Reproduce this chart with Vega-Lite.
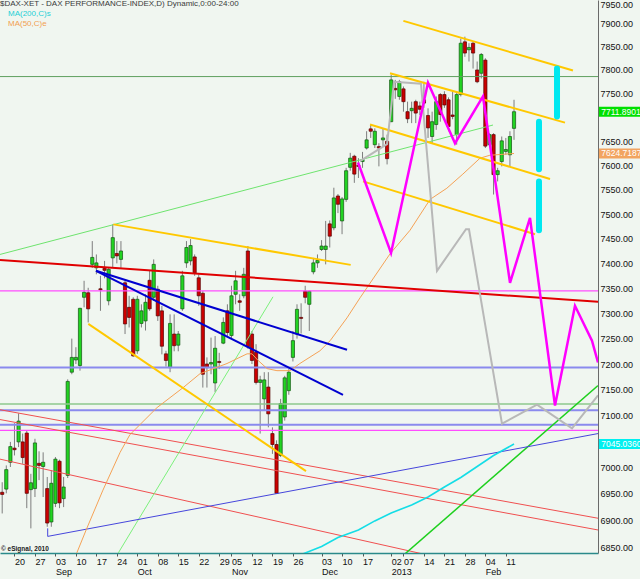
{
  "$schema": "https://vega.github.io/schema/vega-lite/v6.json",
  "width": 598,
  "height": 553,
  "autosize": {"type": "none"},
  "padding": {"left": 0, "top": 0, "right": 42, "bottom": 26},
  "background": "#f0f6f0",
  "config": {
    "view": {"stroke": null},
    "font": "Liberation Sans",
    "axis": {"labelFont": "Liberation Sans", "labelOverlap": false}
  },
  "datasets": {
    "candles": [
      {"k":0,"o":6953,"h":6972,"l":6913,"c":6949},{"k":1,"o":6959,"h":7004,"l":6951,"c":6996},{"k":2,"o":7010,"h":7049,"l":7001,"c":7040},
      {"k":3,"o":7037,"h":7085,"l":7023,"c":7034},{"k":4,"o":7049,"h":7104,"l":7039,"c":7089},{"k":5,"o":7049,"h":7065,"l":7007,"c":7019},
      {"k":6,"o":7066,"h":7071,"l":6923,"c":6951},{"k":7,"o":6958,"h":6988,"l":6885,"c":6971},{"k":8,"o":6960,"h":7055,"l":6944,"c":7047},
      {"k":9,"o":7008,"h":7031,"l":6976,"c":7004},{"k":10,"o":7002,"h":7029,"l":6944,"c":7010},{"k":11,"o":6960,"h":6982,"l":6888,"c":6895},
      {"k":12,"o":6897,"h":6995,"l":6888,"c":6970},{"k":13,"o":6932,"h":7020,"l":6925,"c":7016},{"k":14,"o":7012,"h":7015,"l":6923,"c":6933},
      {"k":15,"o":6941,"h":6982,"l":6925,"c":6963},{"k":16,"o":6985,"h":7170,"l":6980,"c":7166},{"k":17,"o":7184,"h":7250,"l":7180,"c":7213},
      {"k":18,"o":7208,"h":7233,"l":7200,"c":7213},{"k":19,"o":7197,"h":7311,"l":7187,"c":7310},{"k":20,"o":7332,"h":7365,"l":7312,"c":7342},
      {"k":21,"o":7341,"h":7351,"l":7282,"c":7309},{"k":22,"o":7398,"h":7445,"l":7391,"c":7412},{"k":23,"o":7391,"h":7418,"l":7378,"c":7401},
      {"k":24,"o":7349,"h":7375,"l":7305,"c":7347},{"k":25,"o":7390,"h":7405,"l":7370,"c":7386},{"k":26,"o":7325,"h":7391,"l":7316,"c":7388},
      {"k":27,"o":7411,"h":7479,"l":7391,"c":7452},{"k":28,"o":7420,"h":7445,"l":7400,"c":7415},{"k":29,"o":7408,"h":7445,"l":7391,"c":7425},
      {"k":30,"o":7361,"h":7365,"l":7259,"c":7279},{"k":31,"o":7312,"h":7335,"l":7272,"c":7292},{"k":32,"o":7328,"h":7332,"l":7214,"c":7216},
      {"k":33,"o":7226,"h":7335,"l":7220,"c":7328},{"k":34,"o":7280,"h":7318,"l":7272,"c":7305},{"k":35,"o":7285,"h":7338,"l":7266,"c":7322},
      {"k":36,"o":7366,"h":7385,"l":7305,"c":7309},{"k":37,"o":7332,"h":7408,"l":7325,"c":7398},{"k":38,"o":7348,"h":7355,"l":7285,"c":7295},
      {"k":39,"o":7305,"h":7315,"l":7219,"c":7235},{"k":40,"o":7220,"h":7226,"l":7195,"c":7207},{"k":41,"o":7193,"h":7298,"l":7184,"c":7280},
      {"k":42,"o":7259,"h":7298,"l":7225,"c":7236},{"k":43,"o":7237,"h":7265,"l":7225,"c":7259},{"k":44,"o":7309,"h":7385,"l":7305,"c":7375},
      {"k":45,"o":7401,"h":7445,"l":7391,"c":7432},{"k":46,"o":7405,"h":7449,"l":7396,"c":7436},{"k":47,"o":7413,"h":7418,"l":7375,"c":7381},
      {"k":48,"o":7371,"h":7378,"l":7315,"c":7335},{"k":49,"o":7340,"h":7345,"l":7154,"c":7180},{"k":50,"o":7200,"h":7213,"l":7154,"c":7193},
      {"k":51,"o":7200,"h":7252,"l":7180,"c":7203},{"k":52,"o":7163,"h":7255,"l":7145,"c":7231},{"k":53,"o":7205,"h":7222,"l":7190,"c":7203},
      {"k":54,"o":7241,"h":7292,"l":7239,"c":7282},{"k":55,"o":7305,"h":7318,"l":7255,"c":7262},{"k":56,"o":7256,"h":7355,"l":7250,"c":7335},
      {"k":57,"o":7338,"h":7385,"l":7318,"c":7365},{"k":58,"o":7325,"h":7338,"l":7305,"c":7322},{"k":59,"o":7335,"h":7391,"l":7330,"c":7378},
      {"k":60,"o":7425,"h":7435,"l":7230,"c":7234},{"k":61,"o":7259,"h":7265,"l":7200,"c":7207},{"k":62,"o":7223,"h":7239,"l":7160,"c":7164},
      {"k":63,"o":7164,"h":7177,"l":7065,"c":7169},{"k":64,"o":7132,"h":7184,"l":7110,"c":7169},{"k":65,"o":7155,"h":7184,"l":7077,"c":7103},
      {"k":66,"o":7065,"h":7077,"l":7026,"c":7044},{"k":67,"o":7044,"h":7052,"l":6950,"c":6951},{"k":68,"o":7023,"h":7132,"l":7020,"c":7123},
      {"k":69,"o":7097,"h":7177,"l":7090,"c":7173},{"k":70,"o":7148,"h":7190,"l":7140,"c":7184},{"k":71,"o":7213,"h":7265,"l":7205,"c":7246},
      {"k":72,"o":7259,"h":7318,"l":7250,"c":7308},{"k":73,"o":7292,"h":7320,"l":7260,"c":7290},{"k":74,"o":7344,"h":7355,"l":7320,"c":7332},
      {"k":75,"o":7318,"h":7345,"l":7265,"c":7344},{"k":76,"o":7383,"h":7411,"l":7378,"c":7401},{"k":77,"o":7401,"h":7418,"l":7391,"c":7406},
      {"k":78,"o":7428,"h":7447,"l":7425,"c":7435},{"k":79,"o":7428,"h":7486,"l":7398,"c":7435},{"k":80,"o":7480,"h":7487,"l":7432,"c":7455},
      {"k":81,"o":7472,"h":7554,"l":7467,"c":7533},{"k":82,"o":7537,"h":7541,"l":7502,"c":7520},{"k":83,"o":7486,"h":7535,"l":7459,"c":7531},
      {"k":84,"o":7530,"h":7595,"l":7525,"c":7589},{"k":85,"o":7596,"h":7626,"l":7589,"c":7615},{"k":86,"o":7619,"h":7622,"l":7564,"c":7582},
      {"k":87,"o":7600,"h":7615,"l":7574,"c":7598},{"k":88,"o":7608,"h":7628,"l":7595,"c":7612},{"k":89,"o":7636,"h":7671,"l":7633,"c":7653},
      {"k":90,"o":7676,"h":7685,"l":7657,"c":7671},{"k":91,"o":7643,"h":7677,"l":7636,"c":7671},{"k":92,"o":7639,"h":7646,"l":7598,"c":7636},
      {"k":93,"o":7653,"h":7677,"l":7640,"c":7657},{"k":94,"o":7650,"h":7664,"l":7602,"c":7614},{"k":95,"o":7691,"h":7790,"l":7690,"c":7779},
      {"k":96,"o":7761,"h":7779,"l":7739,"c":7758},{"k":97,"o":7744,"h":7779,"l":7737,"c":7775},{"k":98,"o":7760,"h":7765,"l":7712,"c":7733},
      {"k":99,"o":7712,"h":7733,"l":7688,"c":7697},{"k":100,"o":7714,"h":7733,"l":7688,"c":7719},{"k":101,"o":7733,"h":7737,"l":7688,"c":7709},
      {"k":102,"o":7724,"h":7733,"l":7705,"c":7717},{"k":103,"o":7737,"h":7775,"l":7720,"c":7730},{"k":104,"o":7704,"h":7719,"l":7657,"c":7678},
      {"k":105,"o":7660,"h":7712,"l":7646,"c":7691},{"k":106,"o":7685,"h":7744,"l":7674,"c":7733},{"k":107,"o":7748,"h":7751,"l":7691,"c":7706},
      {"k":108,"o":7748,"h":7755,"l":7720,"c":7726},{"k":109,"o":7737,"h":7742,"l":7671,"c":7681},{"k":110,"o":7705,"h":7755,"l":7696,"c":7702},
      {"k":111,"o":7664,"h":7755,"l":7643,"c":7748},{"k":112,"o":7748,"h":7867,"l":7744,"c":7857},{"k":113,"o":7860,"h":7871,"l":7828,"c":7836},
      {"k":114,"o":7843,"h":7857,"l":7818,"c":7848},{"k":115,"o":7857,"h":7860,"l":7803,"c":7836},{"k":116,"o":7800,"h":7818,"l":7772,"c":7775},
      {"k":117,"o":7793,"h":7836,"l":7782,"c":7833},{"k":118,"o":7821,"h":7825,"l":7636,"c":7640},{"k":119,"o":7643,"h":7667,"l":7640,"c":7664},
      {"k":120,"o":7664,"h":7667,"l":7540,"c":7581},{"k":121,"o":7581,"h":7595,"l":7567,"c":7589},{"k":122,"o":7608,"h":7660,"l":7598,"c":7651},
      {"k":123,"o":7629,"h":7657,"l":7622,"c":7633},{"k":124,"o":7622,"h":7671,"l":7598,"c":7660},{"k":125,"o":7677,"h":7737,"l":7653,"c":7711.89}
    ],
    "levels": [
      {"id":"g7786","v":7786},{"id":"m7345","v":7345},{"id":"b7193","v":7193},{"id":"g7122","v":7122},
      {"id":"b7110","v":7110},{"id":"b7082","v":7082},{"id":"m7071","v":7071}
    ],
    "lines": [
      {"id":"redThick","k":-0.54,"v":7407,"o":0},{"id":"redThick","k":145.51,"v":7323,"o":1},
      {"id":"redA","k":-0.54,"v":7111,"o":0},{"id":"redA","k":145.51,"v":6904,"o":1},
      {"id":"redB","k":-0.54,"v":7092,"o":0},{"id":"redB","k":145.51,"v":6882,"o":1},
      {"id":"redC","k":-0.54,"v":7016,"o":0},{"id":"redC","k":108.15,"v":6828,"o":1},
      {"id":"blue1","k":22.91,"v":7385,"o":0},{"id":"blue1","k":84.21,"v":7228,"o":1},
      {"id":"blue2","k":22.91,"v":7385,"o":0},{"id":"blue2","k":83.23,"v":7140,"o":1},
      {"id":"blueThin","k":11.11,"v":6885,"o":0},{"id":"blueThin","k":11.11,"v":6870,"o":1},{"id":"blueThin","k":145.51,"v":7065,"o":2},
      {"id":"gold1","k":27.13,"v":7479,"o":0},{"id":"gold1","k":85.11,"v":7397,"o":1},
      {"id":"gold2","k":21.03,"v":7279,"o":0},{"id":"gold2","k":74.2,"v":6993,"o":1},
      {"id":"gold3","k":97.98,"v":7905,"o":0},{"id":"gold3","k":139.4,"v":7799,"o":1},
      {"id":"gold4","k":94.71,"v":7793,"o":0},{"id":"gold4","k":137.45,"v":7689,"o":1},
      {"id":"gold5","k":89.83,"v":7685,"o":0},{"id":"gold5","k":133.79,"v":7572,"o":1},
      {"id":"gold6","k":88.12,"v":7567,"o":0},{"id":"gold6","k":130.13,"v":7459,"o":1},
      {"id":"greenA","k":-0.54,"v":7418,"o":0},{"id":"greenA","k":119.87,"v":7684,"o":1},
      {"id":"greenB","k":27.79,"v":6832,"o":0},{"id":"greenB","k":66.14,"v":7333,"o":1},
      {"id":"greenC","k":97.57,"v":6832,"o":0},{"id":"greenC","k":145.51,"v":7158,"o":1},
      {"id":"cyan1","k":135.5,"v":7803,"o":0},{"id":"cyan1","k":135.5,"v":7702,"o":1},
      {"id":"cyan2","k":131.1,"v":7691,"o":0},{"id":"cyan2","k":131.1,"v":7592,"o":1},
      {"id":"cyan3","k":131.1,"v":7567,"o":0},{"id":"cyan3","k":131.1,"v":7467,"o":1},
      {"id":"magenta","k":86.9,"v":7606,"o":0},{"id":"magenta","k":94.96,"v":7421,"o":1},{"id":"magenta","k":103.99,"v":7773,"o":2},
      {"id":"magenta","k":110.59,"v":7646,"o":3},{"id":"magenta","k":117.42,"v":7744,"o":4},{"id":"magenta","k":124.02,"v":7361,"o":5},
      {"id":"magenta","k":128.9,"v":7492,"o":6},{"id":"magenta","k":135.01,"v":7119,"o":7},{"id":"magenta","k":139.89,"v":7315,"o":8},
      {"id":"magenta","k":144.04,"v":7246,"o":9},{"id":"magenta","k":145.51,"v":7203,"o":10},
      {"id":"gray","k":87.38,"v":7609,"o":0},{"id":"gray","k":93.98,"v":7644,"o":1},{"id":"gray","k":95.69,"v":7775,"o":2},
      {"id":"gray","k":102.28,"v":7771,"o":3},{"id":"gray","k":106.19,"v":7385,"o":4},{"id":"gray","k":113.27,"v":7469,"o":5},
      {"id":"gray","k":114.0,"v":7469,"o":6},{"id":"gray","k":122.06,"v":7084,"o":7},{"id":"gray","k":130.61,"v":7121,"o":8},
      {"id":"gray","k":139.16,"v":7075,"o":9},{"id":"gray","k":145.51,"v":7139,"o":10}
    ],
    "ma": [
      {"ma":"MA(200,C)s","k":70,"v":6830},{"ma":"MA(200,C)s","k":73,"v":6836},{"ma":"MA(200,C)s","k":78,"v":6851},
      {"ma":"MA(200,C)s","k":82,"v":6868},{"ma":"MA(200,C)s","k":87,"v":6882},{"ma":"MA(200,C)s","k":91,"v":6899},
      {"ma":"MA(200,C)s","k":95,"v":6914},{"ma":"MA(200,C)s","k":100,"v":6929},{"ma":"MA(200,C)s","k":104,"v":6944},
      {"ma":"MA(200,C)s","k":108,"v":6963},{"ma":"MA(200,C)s","k":112,"v":6981},{"ma":"MA(200,C)s","k":116,"v":7002},
      {"ma":"MA(200,C)s","k":120,"v":7023},{"ma":"MA(200,C)s","k":125,"v":7045.04},
      {"ma":"MA(50,C)e","k":17.3,"v":6822},{"ma":"MA(50,C)e","k":20.5,"v":6882},{"ma":"MA(50,C)e","k":24.6,"v":6957},
      {"ma":"MA(50,C)e","k":28.8,"v":7029},{"ma":"MA(50,C)e","k":31.2,"v":7063},{"ma":"MA(50,C)e","k":37.8,"v":7115},
      {"ma":"MA(50,C)e","k":44.2,"v":7154},{"ma":"MA(50,C)e","k":48.3,"v":7181},{"ma":"MA(50,C)e","k":54.9,"v":7201},
      {"ma":"MA(50,C)e","k":59.8,"v":7220},{"ma":"MA(50,C)e","k":61,"v":7220},{"ma":"MA(50,C)e","k":62.5,"v":7207},
      {"ma":"MA(50,C)e","k":64.7,"v":7191},{"ma":"MA(50,C)e","k":67.1,"v":7187},{"ma":"MA(50,C)e","k":70.3,"v":7187},
      {"ma":"MA(50,C)e","k":72.7,"v":7201},{"ma":"MA(50,C)e","k":77.6,"v":7226},{"ma":"MA(50,C)e","k":80.1,"v":7246},
      {"ma":"MA(50,C)e","k":84.2,"v":7291},{"ma":"MA(50,C)e","k":87.4,"v":7331},{"ma":"MA(50,C)e","k":94.7,"v":7419},
      {"ma":"MA(50,C)e","k":99.6,"v":7467},{"ma":"MA(50,C)e","k":104.5,"v":7530},{"ma":"MA(50,C)e","k":108.6,"v":7553},
      {"ma":"MA(50,C)e","k":112.5,"v":7582},{"ma":"MA(50,C)e","k":116.7,"v":7615},{"ma":"MA(50,C)e","k":119.1,"v":7621},
      {"ma":"MA(50,C)e","k":125,"v":7624.72}
    ],
    "lastvals": [
      {"s":"close","v":7711.8901,"t":"7711.8901"},
      {"s":"ma50","v":7624.71877,"t":"7624.71877"},
      {"s":"ma200","v":7045.03601,"t":"7045.03601"}
    ]
  },
  "layer": [
    {
      "data": {"name": "candles"},
      "mark": {"type": "rule", "color": "#7d7d7d", "strokeWidth": 1},
      "encoding": {
        "x": {
          "field": "k", "type": "quantitative",
          "scale": {"domain": [-0.537, 145.51], "nice": false, "zero": false, "padding": 0},
          "axis": {
            "title": null, "orient": "bottom", "grid": false, "tickCount": 40,
            "values": [3, 8, 13, 18, 23, 28, 33, 38, 43, 48, 53, 56, 61, 66, 71, 78, 83, 88, 95, 98, 103, 108, 113, 118, 123],
            "labelExpr": "[['20'],['27'],['03','Sep'],['10'],['17'],['24'],['01','Oct'],['08'],['15'],['22'],['29'],['05','Nov'],['12'],['19'],['26'],['03','Dec'],['10'],['17'],['02','2013'],['07'],['14'],['21'],['28'],['04','Feb'],['11']][indexof([3, 8, 13, 18, 23, 28, 33, 38, 43, 48, 53, 56, 61, 66, 71, 78, 83, 88, 95, 98, 103, 108, 113, 118, 123], datum.value)]",
            "labelAlign": "left", "labelFontSize": 9, "labelColor": "#111111", "labelLineHeight": 10,
            "labelOverlap": false, "labelSeparation": 0, "labelBound": false, "labelFlush": false, "labelPadding": 1,
            "tickSize": 3, "tickColor": "#555555", "domainColor": "#2a8a8a", "domainWidth": 1.5
          }
        },
        "y": {
          "field": "l", "type": "quantitative",
          "scale": {"type": "log", "domain": [6839, 7950], "nice": false, "padding": 0},
          "axis": {
            "title": null, "orient": "right", "grid": false, "tickCount": 40,
            "values": [6850, 6900, 6950, 7000, 7100, 7150, 7200, 7250, 7300, 7350, 7400, 7450, 7500, 7550, 7600, 7650, 7750, 7800, 7850, 7900, 7950],
            "format": ".2f", "labelFontSize": 9, "labelColor": "#111111", "labelAlign": "left",
            "labelPadding": 2, "ticks": false, "labelOverlap": false, "labelFlush": true,
            "domainColor": "#6a6a6a"
          }
        },
        "y2": {"field": "h"}
      }
    },
    {
      "data": {"name": "candles"},
      "mark": {"type": "bar", "width": 3.2, "strokeWidth": 0.7},
      "encoding": {
        "x": {"field": "k", "type": "quantitative"},
        "y": {"field": "o", "type": "quantitative"},
        "y2": {"field": "c"},
        "fill": {"condition": {"test": "datum.c >= datum.o", "value": "#22d422"}, "value": "#cc0000"},
        "stroke": {"condition": {"test": "datum.c >= datum.o", "value": "#115511"}, "value": "#550000"}
      }
    },
    {
      "data": {"name": "levels"},
      "transform": [{"filter": "datum.id == 'g7786'"}],
      "mark": {"type": "rule", "color": "#5f9f5f", "strokeWidth": 1},
      "encoding": {"y": {"field": "v", "type": "quantitative"}}
    },
    {
      "data": {"name": "levels"},
      "transform": [{"filter": "datum.id == 'm7345' || datum.id == 'm7071'"}],
      "mark": {"type": "rule", "color": "#ff4cff", "strokeWidth": 1.2},
      "encoding": {"y": {"field": "v", "type": "quantitative"}}
    },
    {
      "data": {"name": "levels"},
      "transform": [{"filter": "datum.id == 'g7122'"}],
      "mark": {"type": "rule", "color": "#8ec88e", "strokeWidth": 1.5},
      "encoding": {"y": {"field": "v", "type": "quantitative"}}
    },
    {
      "data": {"name": "levels"},
      "transform": [{"filter": "datum.id == 'b7193' || datum.id == 'b7110' || datum.id == 'b7082'"}],
      "mark": {"type": "rule", "color": "#8a8aee", "strokeWidth": 2},
      "encoding": {"y": {"field": "v", "type": "quantitative"}}
    },
    {
      "data": {"name": "lines"},
      "transform": [{"filter": "datum.id == 'redA' || datum.id == 'redB' || datum.id == 'redC'"}],
      "mark": {"type": "line", "color": "#f05050", "strokeWidth": 1, "clip": true},
      "encoding": {"x": {"field": "k", "type": "quantitative"}, "y": {"field": "v", "type": "quantitative"}, "detail": {"field": "id"}, "order": {"field": "o"}}
    },
    {
      "data": {"name": "lines"},
      "transform": [{"filter": "datum.id == 'greenA'"}],
      "mark": {"type": "line", "color": "#6ee46e", "strokeWidth": 1, "clip": true},
      "encoding": {"x": {"field": "k", "type": "quantitative"}, "y": {"field": "v", "type": "quantitative"}, "detail": {"field": "id"}, "order": {"field": "o"}}
    },
    {
      "data": {"name": "lines"},
      "transform": [{"filter": "datum.id == 'greenB'"}],
      "mark": {"type": "line", "color": "#7cf07c", "strokeWidth": 1, "clip": true},
      "encoding": {"x": {"field": "k", "type": "quantitative"}, "y": {"field": "v", "type": "quantitative"}, "detail": {"field": "id"}, "order": {"field": "o"}}
    },
    {
      "data": {"name": "lines"},
      "transform": [{"filter": "datum.id == 'greenC'"}],
      "mark": {"type": "line", "color": "#1ed01e", "strokeWidth": 1.5, "clip": true},
      "encoding": {"x": {"field": "k", "type": "quantitative"}, "y": {"field": "v", "type": "quantitative"}, "detail": {"field": "id"}, "order": {"field": "o"}}
    },
    {
      "data": {"name": "lines"},
      "transform": [{"filter": "datum.id == 'blueThin'"}],
      "mark": {"type": "line", "color": "#4646dc", "strokeWidth": 1, "clip": true},
      "encoding": {"x": {"field": "k", "type": "quantitative"}, "y": {"field": "v", "type": "quantitative"}, "detail": {"field": "id"}, "order": {"field": "o"}}
    },
    {
      "data": {"name": "ma"},
      "mark": {"type": "line", "clip": true},
      "encoding": {
        "x": {"field": "k", "type": "quantitative"},
        "y": {"field": "v", "type": "quantitative"},
        "color": {
          "field": "ma", "type": "nominal",
          "scale": {"domain": ["MA(200,C)s", "MA(50,C)e"], "range": ["#14dde6", "#f5a256"]},
          "legend": {
            "title": "$DAX-XET - DAX PERFORMANCE-INDEX,D) Dynamic,0:00-24:00",
            "orient": "top-left", "offset": 0, "padding": 0, "direction": "vertical",
            "titleFontSize": 8, "titleFontWeight": "normal", "titleColor": "#3a3a3a", "titleLimit": 600, "titlePadding": 2,
            "titleFont": "Liberation Sans", "labelFont": "Liberation Sans", "labelFontSize": 8, "labelOffset": 0, "labelLimit": 300,
            "symbolSize": 0, "symbolOpacity": 0, "symbolStrokeWidth": 0, "rowPadding": 2,
            "encode": {"labels": {"update": {"fill": {"signal": "datum.value === 'MA(200,C)s' ? '#1ccfd6' : '#f2a050'"}}}}
          }
        },
        "strokeWidth": {"field": "ma", "type": "nominal", "scale": {"domain": ["MA(200,C)s", "MA(50,C)e"], "range": [1.6, 1]}, "legend": null}
      }
    },
    {
      "data": {"name": "lines"},
      "transform": [{"filter": "datum.id == 'redThick'"}],
      "mark": {"type": "line", "color": "#e00000", "strokeWidth": 2, "clip": true},
      "encoding": {"x": {"field": "k", "type": "quantitative"}, "y": {"field": "v", "type": "quantitative"}, "detail": {"field": "id"}, "order": {"field": "o"}}
    },
    {
      "data": {"name": "lines"},
      "transform": [{"filter": "datum.id == 'blue1' || datum.id == 'blue2'"}],
      "mark": {"type": "line", "color": "#0000d0", "strokeWidth": 2, "clip": true},
      "encoding": {"x": {"field": "k", "type": "quantitative"}, "y": {"field": "v", "type": "quantitative"}, "detail": {"field": "id"}, "order": {"field": "o"}}
    },
    {
      "data": {"name": "lines"},
      "transform": [{"filter": "indexof(['gold1','gold2','gold3','gold4','gold5','gold6'], datum.id) >= 0"}],
      "mark": {"type": "line", "color": "#ffc800", "strokeWidth": 2, "clip": true},
      "encoding": {"x": {"field": "k", "type": "quantitative"}, "y": {"field": "v", "type": "quantitative"}, "detail": {"field": "id"}, "order": {"field": "o"}}
    },
    {
      "data": {"name": "lines"},
      "transform": [{"filter": "datum.id == 'gray'"}],
      "mark": {"type": "line", "color": "#b8b8b8", "strokeWidth": 2, "clip": true},
      "encoding": {"x": {"field": "k", "type": "quantitative"}, "y": {"field": "v", "type": "quantitative"}, "detail": {"field": "id"}, "order": {"field": "o"}}
    },
    {
      "data": {"name": "lines"},
      "transform": [{"filter": "datum.id == 'magenta'"}],
      "mark": {"type": "line", "color": "#ff00ff", "strokeWidth": 2.5, "clip": true},
      "encoding": {"x": {"field": "k", "type": "quantitative"}, "y": {"field": "v", "type": "quantitative"}, "detail": {"field": "id"}, "order": {"field": "o"}}
    },
    {
      "data": {"name": "lines"},
      "transform": [{"filter": "indexof(['cyan1','cyan2','cyan3'], datum.id) >= 0"}],
      "mark": {"type": "line", "color": "#00e8f0", "strokeWidth": 6, "strokeCap": "round", "clip": true},
      "encoding": {"x": {"field": "k", "type": "quantitative"}, "y": {"field": "v", "type": "quantitative"}, "detail": {"field": "id"}, "order": {"field": "o"}}
    },
    {
      "data": {"values": [{"t": "© eSignal, 2010"}]},
      "mark": {"type": "text", "align": "left", "baseline": "middle", "fontSize": 6.5, "fontWeight": "bold", "color": "#222222"},
      "encoding": {"x": {"datum": -0.3, "type": "quantitative"}, "y": {"datum": 6847, "type": "quantitative"}, "text": {"field": "t"}}
    },
    {
      "data": {"name": "lastvals"},
      "mark": {"type": "tick", "orient": "horizontal", "size": 44, "thickness": 10, "opacity": 1},
      "encoding": {
        "x": {"datum": 151.1, "type": "quantitative"},
        "y": {"field": "v", "type": "quantitative"},
        "color": {"condition": [{"test": "datum.s == 'close'", "value": "#00e000"}, {"test": "datum.s == 'ma50'", "value": "#f2a460"}], "value": "#00f0f0"}
      }
    },
    {
      "data": {"name": "lastvals"},
      "mark": {"type": "text", "align": "left", "baseline": "middle", "fontSize": 8.5, "color": "#ffffff"},
      "encoding": {
        "x": {"datum": 146.3, "type": "quantitative"},
        "y": {"field": "v", "type": "quantitative"},
        "text": {"field": "t"}
      }
    }
  ]
}
